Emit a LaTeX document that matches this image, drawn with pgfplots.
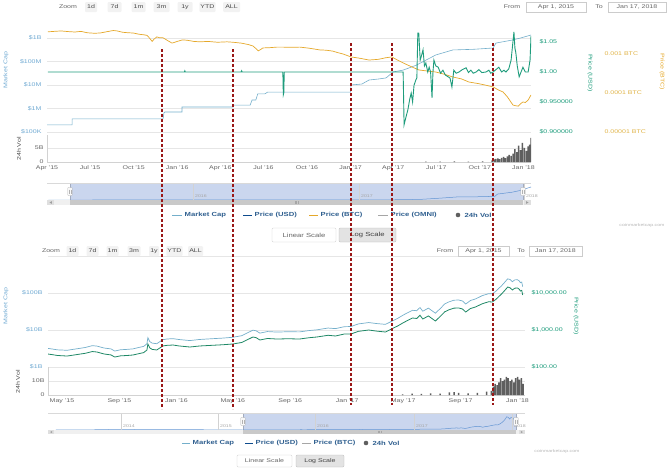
\documentclass[border=0pt]{standalone}
\usepackage{pgfplots}
\usepackage{pgfplotstable}
\pgfplotsset{compat=1.18}
\usepackage{fontspec}
\setmainfont{Liberation Sans}[FakeStretch=1.3]
\definecolor{mcap}{HTML}{74AFCB}
\definecolor{mcapT}{HTML}{6FA9D2}
\definecolor{usd}{HTML}{1E9C7C}
\definecolor{usdB}{HTML}{1F8866}
\definecolor{btc}{HTML}{E5A82A}
\definecolor{btcT}{HTML}{E0B44A}
\definecolor{vol}{HTML}{5F5F5F}
\definecolor{gridc}{HTML}{E6E6E6}
\definecolor{txt}{HTML}{666666}
\definecolor{legtxt}{HTML}{2F5F8F}
\definecolor{navfill}{HTML}{CAD6EE}
\definecolor{dred}{HTML}{9A1717}
\newcommand\tl{\fontsize{5.4}{6}\selectfont}
\newcommand\lgf{\fontsize{5.9}{6.5}\selectfont}
\newcommand\sm{\fontsize{4}{5}\selectfont}

% ---------- top chart (Tether) ----------
\pgfplotstableread{
day mc
-45 2.0e5
2 2.0e5
53 2.0e5
53 3.6e5
245 3.6e5
247 6.5e5
249 7.1e5
285 7.1e5
285 1.16e6
393 1.16e6
394 1.4e6
429 1.4e6
433 2.3e6
441 2.3e6
445 4.2e6
460 4.2e6
466 5.0e6
641 5.0e6
642 1.0e7
665 1.1e7
680 1.63e7
700 1.8e7
716 2.0e7
731 3.6e7
752 4.3e7
780 7.0e7
821 1.9e8
857 3.1e8
900 3.3e8
942 3.75e8
948 6.1e8
980 8.0e8
1000 1.0e9
1022 1.34e9
}\mcT

\pgfplotstableread{
day p
2 3.7e-3
15 3.8e-3
30 3.9e-3
45 3.75e-3
59 3.66e-3
72 3.8e-3
85 3.5e-3
100 3.4e-3
112 3.45e-3
125 3.7e-3
140 4.0e-3
148 3.9e-3
160 3.6e-3
172 3.5e-3
182 3.45e-3
195 3.2e-3
205 3.1e-3
211 3.0e-3
216 2.6e-3
222 2.1e-3
226 2.4e-3
232 2.75e-3
238 2.6e-3
245 2.6e-3
255 2.2e-3
264 1.9e-3
275 2.1e-3
286 2.3e-3
296 2.25e-3
310 2.1e-3
323 2.05e-3
340 2.1e-3
360 2.0e-3
380 2.05e-3
393 2.0e-3
410 1.9e-3
425 1.75e-3
435 1.6e-3
442 1.35e-3
446 1.2e-3
451 1.3e-3
456 1.43e-3
470 1.45e-3
485 1.5e-3
498 1.5e-3
515 1.48e-3
534 1.5e-3
555 1.4e-3
576 1.27e-3
590 1.25e-3
604 1.18e-3
612 1.1e-3
625 1.0e-3
642 8.4e-4
660 7.8e-4
680 7.0e-4
700 7.3e-4
715 8.0e-4
728 8.4e-4
740 7.0e-4
752 5.9e-4
768 4.8e-4
785 3.9e-4
800 3.7e-4
821 3.45e-4
840 3.0e-4
857 2.57e-4
875 2.3e-4
891 1.91e-4
910 1.75e-4
925 1.6e-4
942 1.43e-4
953 1.2e-4
963 1.06e-4
972 8.0e-5
979 6.0e-5
984 4.9e-5
990 4.7e-5
995 4.6e-5
1000 5.3e-5
1005 5.9e-5
1010 5.7e-5
1016 6.6e-5
1022 8.9e-5
}\btcT

\pgfplotstableread{
day p
2 1.0
290 1.0
291 1.002
292 1.0
410 1.0
411 1.002
412 1.0
498 1.0
499 0.962
500 0.965
501 1.0
752 1.0
754 0.912
758 0.925
762 0.937
766 0.955
769 0.965
772 0.95
775 0.978
779 0.987
781 0.99
783 1.065
785 1.065
788 1.02
790 1.025
794 1.037
797 1.01
800 1.015
804 1.0
807 1.008
810 1.0
813 0.957
815 1.0
817 1.02
821 1.01
826 1.008
831 0.998
836 1.003
841 0.995
847 0.992
851 0.99
855 0.975
859 1.003
864 0.998
870 1.0
877 1.004
885 1.007
890 0.999
895 1.003
900 0.998
906 1.0
912 1.004
918 0.999
927 1.0
933 1.003
937 0.998
942 1.0
948 1.004
954 1.008
960 1.0
965 1.003
969 1.0
975 1.005
980 1.02
986 1.067
988 1.04
990 1.032
993 1.01
997 0.992
1001 1.0
1005 1.008
1010 1.0
1016 1.0
1020 1.02
1022 1.06
}\usdT

\pgfplotstableread{
day v
800 0.1
830 0.15
860 0.2
890 0.15
920 0.2
940 0.6
944 0.9
948 1.1
952 1.3
956 1.0
960 1.5
964 1.8
968 1.4
972 2.0
976 2.5
980 2.2
984 3.0
988 4.6
992 3.5
996 5.8
1000 4.2
1004 6.8
1008 5.0
1012 4.0
1016 5.6
1019 6.2
1022 8.6
}\volT

% ---------- bottom chart (Bitcoin) ----------
\pgfplotstableread{
day p mc
0 224 3.18e9
10 215 3.05e9
20 205 2.91e9
41 198 2.83e9
60 215 3.08e9
80 235 3.37e9
95 262 3.78e9
105 254 3.67e9
120 225 3.26e9
135 212 3.08e9
143 186 2.70e9
155 200 2.92e9
170 205 3.00e9
182 211 3.09e9
195 230 3.38e9
205 245 3.61e9
212 288 4.25e9
214 420 6.2e9
218 330 4.87e9
223 300 4.43e9
233 288 4.26e9
246 370 5.48e9
255 385 5.71e9
268 393 5.84e9
280 372 5.54e9
304 347 5.18e9
325 370 5.55e9
350 385 5.80e9
375 400 6.05e9
396 419 6.36e9
415 460 7.01e9
426 537 8.20e9
439 647 9.9e9
446 620 9.5e9
454 537 8.23e9
470 590 9.07e9
490 571 8.8e9
515 580 8.98e9
539 571 8.89e9
560 620 9.68e9
576 647 1.01e10
600 720 1.13e10
616 689 1.09e10
635 780 1.23e10
649 780 1.24e10
665 920 1.46e10
687 1000 1.59e10
705 930 1.49e10
723 883 1.42e10
736 1064 1.71e10
750 1300 2.09e10
760 1545 2.49e10
770 1800 2.91e10
781 2109 3.41e10
790 2050 3.32e10
797 2500 4.05e10
803 1982 3.22e10
815 2400 3.90e10
830 1750 2.85e10
840 2300 3.75e10
850 3100 5.06e10
858 3475 5.69e10
870 3900 6.4e10
880 3935 6.46e10
888 3700 6.09e10
895 3064 5.04e10
905 3800 6.26e10
916 4189 6.91e10
930 5100 8.44e10
944 5800 9.61e10
952 5714 9.47e10
960 6800 1.13e11
965 7799 1.30e11
972 9500 1.58e11
978 11500 1.92e11
985 14520 2.42e11
990 13800 2.31e11
995 12050 2.02e11
1000 13500 2.26e11
1006 13650 2.28e11
1010 12500 2.10e11
1012 11320 1.90e11
1015 11800 1.98e11
1017 8830 1.48e11
}\btcB

\pgfplotstableread{
day v
760 0.5
780 1.0
800 0.8
820 1.2
840 0.9
860 1.8
870 2.0
880 1.5
900 1.2
920 1.6
940 2.5
950 3.0
954 6
958 8
962 7
966 9
970 12
974 10
978 11
982 13
986 12
990 10
994 11
998 9
1002 12
1006 13
1010 11
1014 12
1018 8
}\volB

\pgfplotsset{
  cmc/.style={scale only axis, anchor=north west,
    axis line style={draw=none}, major tick length=0pt, minor tick length=0pt,
    tick label style={font=\tl, text=txt},
    grid style={gridc, line width=0.5pt},
    xtick=\empty},
  nav/.style={cmc, ytick=\empty},
}

\begin{document}
\begin{tikzpicture}
\useasboundingbox (0pt,0pt) rectangle (672pt,-469pt);

% ======== TOP CHART ========
\begin{axis}[cmc, at={(47pt,-30pt)}, width=484pt, height=105pt,
  xmin=0, xmax=1022, ymode=log, ymin=7.45e4, ymax=2.19e9,
  ytick={1e5,1e6,1e7,1e8,1e9}, yticklabels={\$100K,\$1M,\$10M,\$100M,\$1B},
  yticklabel style={text=mcapT, xshift=-2pt}, ymajorgrids]
\addplot[mcap, line width=0.6pt] table[x=day,y=mc]{\mcT};
\end{axis}
\begin{axis}[cmc, at={(47pt,-30pt)}, width=484pt, height=105pt,
  xmin=0, xmax=1022, ymode=log, ymin=8.37e-6, ymax=4.12e-3,
  axis y line*=right, ytick={1e-5,1e-4,1e-3},
  yticklabels={0.00001 BTC,0.0001 BTC,0.001 BTC},
  yticklabel style={text=btcT, anchor=west, xshift=70pt}]
\addplot[btc, line width=0.7pt] table[x=day,y=p]{\btcT};
\end{axis}
\begin{axis}[cmc, at={(47pt,-30pt)}, width=484pt, height=105pt,
  xmin=0, xmax=1022, ymin=0.895, ymax=1.07,
  axis y line*=right, ytick={0.9,0.95,1.0,1.05},
  yticklabels={\$0.900000,\$0.950000,\$1.00,\$1.05},
  yticklabel style={text=usd, anchor=west, xshift=5pt}]
\addplot[usd, line width=0.9pt] table[x=day,y=p]{\usdT};
\end{axis}
% volume
\begin{axis}[cmc, at={(47pt,-135pt)}, width=484pt, height=27pt,
  xmin=0, xmax=1022, ymin=0, ymax=9.6,
  ytick={0,5}, yticklabels={0,5B}, ymajorgrids,
  xtick={0,91,183,275,366,457,549,641,731,822,914,1006},
  xticklabels={Apr '15,Jul '15,Oct '15,Jan '16,Apr '16,Jul '16,Oct '16,Jan '17,Apr '17,Jul '17,Oct '17,Jan '18},
  axis x line*=bottom, axis y line*=left, axis line style={draw=gray!35},
  ybar, bar width=1.5pt]
\addplot[fill=vol, draw=none] table[x=day,y=v]{\volT};
\end{axis}
% navigator
\begin{axis}[nav, at={(47pt,-183pt)}, width=484pt, height=17pt,
  xmin=-48, xmax=1022, ymin=0, ymax=1.75e9]
\addplot[fill=navfill, draw=navfill!80!black] coordinates {(3,0) (1004,0) (1004,1.75e9) (3,1.75e9)} -- cycle;
\addplot[mcap!85!blue, line width=0.5pt] table[x=day,y=mc]{\mcT};
\end{axis}

% ======== BOTTOM CHART ========
\begin{axis}[cmc, at={(48pt,-256pt)}, width=477pt, height=111pt,
  xmin=0, xmax=1022, ymode=log, ymin=1e9, ymax=1e12,
  ytick={1e9,1e10,1e11,1e12}, yticklabels={\$1B,\$10B,\$100B,},
  yticklabel style={text=mcapT, xshift=-2pt}, ymajorgrids]
\addplot[mcap, line width=0.7pt] table[x=day,y=mc]{\btcB};
\end{axis}
\begin{axis}[cmc, at={(48pt,-256pt)}, width=477pt, height=111pt,
  xmin=0, xmax=1022, ymode=log, ymin=100, ymax=1e5,
  axis y line*=right, ytick={100,1000,10000},
  yticklabels={{\$100.00},{\$1,000.00},{\$10,000.00}},
  yticklabel style={text=usd, anchor=west, xshift=3pt}]
\addplot[usdB, line width=0.8pt] table[x=day,y=p]{\btcB};
\end{axis}
\begin{axis}[cmc, at={(48pt,-367pt)}, width=477pt, height=28pt,
  xmin=0, xmax=1022, ymin=0, ymax=20,
  ytick={0,10}, yticklabels={0,10B}, ymajorgrids,
  xtick={30,153,275,396,519,641,761,884,1006},
  xticklabels={May '15,Sep '15,Jan '16,May '16,Sep '16,Jan '17,May '17,Sep '17,Jan '18},
  axis x line*=bottom, axis y line*=left, axis line style={draw=gray!35},
  ybar, bar width=1.5pt]
\addplot[fill=vol, draw=none] table[x=day,y=v]{\volB};
\end{axis}
\begin{axis}[nav, at={(48pt,-413pt)}, width=477pt, height=17pt,
  xmin=2013.25, xmax=2018.13, ymin=0, ymax=3.1e11]
\addplot[fill=navfill, draw=navfill!80!black] coordinates {(2015.25,0) (2018.045,0) (2018.045,3.1e11) (2015.25,3.1e11)} -- cycle;
\addplot[mcap!85!blue, line width=0.5pt] coordinates {(2013.33,1.5e9) (2013.6,1.2e9) (2013.85,8e9) (2013.92,1.3e10) (2014.1,1e10) (2014.3,6e9) (2014.5,8e9) (2014.8,5e9) (2015.0,3.5e9) (2015.24,3.2e9)};
\addplot[mcap!85!blue, line width=0.5pt] table[x expr=2015.247+\thisrow{day}/365.25, y=mc]{\btcB};
\end{axis}

% ======== decorations ========
\begin{scope}[x=1pt,y=-1pt, every node/.style={font=\tl, text=txt, inner sep=1pt}]
% zoom rows
\node at (68,7) {Zoom};
\foreach \xx/\lab/\w in {91/1d/12, 114.5/7d/14, 138.5/1m/14, 161.5/3m/16, 185/1y/15, 207.5/YTD/16, 231.5/ALL/17}{
  \node[fill=gray!10, rounded corners=1pt, minimum width=\w pt, minimum height=10pt, text=black!70] at (\xx,7) {\lab};}
\node at (51,251) {Zoom};
\foreach \xx/\lab/\w in {72.5/1d/12, 92.5/7d/12, 112.5/1m/12, 134/3m/13, 154/1y/10, 174.5/YTD/15, 195.5/ALL/15}{
  \node[fill=gray!10, rounded corners=1pt, minimum width=\w pt, minimum height=10pt, text=black!70] at (\xx,251) {\lab};}
% from / to
\node at (512,7) {From};
\node[draw=gray!40, minimum width=60pt, minimum height=10pt] at (556,7) {Apr 1, 2015};
\node at (599,7) {To};
\node[draw=gray!40, minimum width=58pt, minimum height=10pt] at (637,7) {Jan 17, 2018};
\node at (445,251) {From};
\node[draw=gray!40, minimum width=51pt, minimum height=10pt] at (483.5,251) {Apr 1, 2015};
\node at (521,251) {To};
\node[draw=gray!40, minimum width=53pt, minimum height=10pt] at (555.5,251) {Jan 17, 2018};
% axis titles
\node[rotate=90, text=mcapT] at (6,70) {Market Cap};
\node[rotate=90, text=black!70] at (19,149) {24h Vol};
\node[rotate=-90, text=usd] at (590,73) {Price (USD)};
\node[rotate=-90, text=btc] at (662,72) {Price (BTC)};
\node[rotate=90, text=mcapT] at (6,306) {Market Cap};
\node[rotate=90, text=black!70] at (18,382) {24h Vol};
\node[rotate=-90, text=usd] at (576,316) {Price (USD)};
% top navigator labels, grid, handles, scrollbar
\foreach \gx/\lab in {193/2016, 359/2017, 524/2018}{
  \draw[gray!35, line width=0.4pt] (\gx,183) -- (\gx,200);
  \node[anchor=west, font=\sm, text=gray!70] at (\gx+1,196) {\lab};}
\draw[gray!30, line width=0.4pt] (47,183) -- (531,183);
\fill[gray!12] (47,200) rectangle (531,205);
\fill[gray!42] (70,200) rectangle (523,205);
\fill[gray!25] (47,200) rectangle (54,205);
\fill[gray!25] (524,200) rectangle (531,205);
\fill[gray!75] (49.5,202.5) -- (51.8,201.2) -- (51.8,203.8) -- cycle;
\fill[gray!75] (528.5,202.5) -- (526.2,201.2) -- (526.2,203.8) -- cycle;
\draw[gray!70, line width=0.3pt] (295,201.2) -- (295,203.8) (296.5,201.2) -- (296.5,203.8) (298,201.2) -- (298,203.8);
\foreach \hx in {70,523}{
  \draw[gray!60, fill=gray!5, rounded corners=0.6pt, line width=0.3pt] (\hx-2.2,187.5) rectangle (\hx+2.2,195.5);
  \draw[gray!60, line width=0.3pt] (\hx-0.7,189.5) -- (\hx-0.7,193.5) (\hx+0.7,189.5) -- (\hx+0.7,193.5);}
% bottom navigator labels, grid, handles, scrollbar
\foreach \gx/\lab in {121/2014, 218/2015, 315/2016, 414/2017, 512/2018}{
  \draw[gray!35, line width=0.4pt] (\gx,413) -- (\gx,430);
  \node[anchor=west, font=\sm, text=gray!70] at (\gx+1,426) {\lab};}
\draw[gray!30, line width=0.4pt] (48,413) -- (525,413);
\fill[gray!12] (48,430) rectangle (525,434);
\fill[gray!42] (243,430) rectangle (516,434);
\fill[gray!25] (48,430) rectangle (54,434);
\fill[gray!25] (519,430) rectangle (525,434);
\fill[gray!75] (50,432) -- (52.2,430.9) -- (52.2,433.1) -- cycle;
\fill[gray!75] (523,432) -- (520.8,430.9) -- (520.8,433.1) -- cycle;
\draw[gray!70, line width=0.3pt] (378,430.9) -- (378,433.1) (379.5,430.9) -- (379.5,433.1) (381,430.9) -- (381,433.1);
\foreach \hx in {243,516}{
  \draw[gray!60, fill=gray!5, rounded corners=0.6pt, line width=0.3pt] (\hx-2.2,417.5) rectangle (\hx+2.2,425.5);
  \draw[gray!60, line width=0.3pt] (\hx-0.7,419.5) -- (\hx-0.7,423.5) (\hx+0.7,419.5) -- (\hx+0.7,423.5);}
% legends
\begin{scope}[every node/.style={font=\lgf\bfseries, text=legtxt, anchor=west, inner sep=0.5pt}]
\draw[mcap, line width=0.9pt] (172,215) -- (182,215); \node at (184,215) {Market Cap};
\draw[usd!60!blue!80!black, line width=0.9pt] (243,215) -- (252,215); \node at (254,215) {Price (USD)};
\draw[btc, line width=0.9pt] (309,215) -- (318,215); \node at (320,215) {Price (BTC)};
\draw[gray!70, line width=0.9pt] (378,215) -- (388,215); \node at (390,215) {Price (OMNI)};
\fill[vol] (458,215) circle (2.3pt); \node at (464,215) {24h Vol};
\draw[mcap, line width=0.9pt] (182,443) -- (190,443); \node at (192,443) {Market Cap};
\draw[usd!60!blue!80!black, line width=0.9pt] (245,443) -- (253,443); \node at (255,443) {Price (USD)};
\draw[gray!70, line width=0.9pt] (302,443) -- (311,443); \node at (313,443) {Price (BTC)};
\fill[vol] (366,443) circle (2.3pt); \node at (372,443) {24h Vol};
\end{scope}
% scale buttons
\node[draw=gray!40, fill=white, rounded corners=1.2pt, minimum width=64pt, minimum height=14pt, font=\lgf] at (304,235) {Linear Scale};
\node[draw=gray!55, fill=gray!22, rounded corners=1.2pt, minimum width=57pt, minimum height=14pt, text=black!75, font=\lgf] at (367.5,235) {Log Scale};
\node[draw=gray!40, fill=white, rounded corners=1.2pt, minimum width=55pt, minimum height=12pt] at (264.5,461) {Linear Scale};
\node[draw=gray!55, fill=gray!22, rounded corners=1.2pt, minimum width=48pt, minimum height=12pt, text=black!75] at (320,461) {Log Scale};
% credits
\node[font=\sm, text=gray!55] at (642,225) {coinmarketcap.com};
\node[font=\sm, text=gray!55] at (557,451) {coinmarketcap.com};
\end{scope}

% ======== red dashed markers ========
\begin{axis}[at={(0pt,0pt)}, anchor=north west, scale only axis, width=672pt, height=469pt,
  xmin=0, xmax=672, ymin=0, ymax=469, y dir=reverse, hide axis, clip=false]
\addplot[dred, line width=1.5pt, dash pattern=on 3pt off 2pt] coordinates {(162,49) (162,409)};
\addplot[dred, line width=1.5pt, dash pattern=on 3pt off 2pt] coordinates {(233,49) (233,409)};
\addplot[dred, line width=1.5pt, dash pattern=on 3pt off 2pt] coordinates {(351,43) (351,405)};
\addplot[dred, line width=1.5pt, dash pattern=on 3pt off 2pt] coordinates {(392,43) (392,405)};
\addplot[dred, line width=1.5pt, dash pattern=on 3pt off 2pt] coordinates {(493,43) (493,405)};
\end{axis}
\end{tikzpicture}
\end{document}
